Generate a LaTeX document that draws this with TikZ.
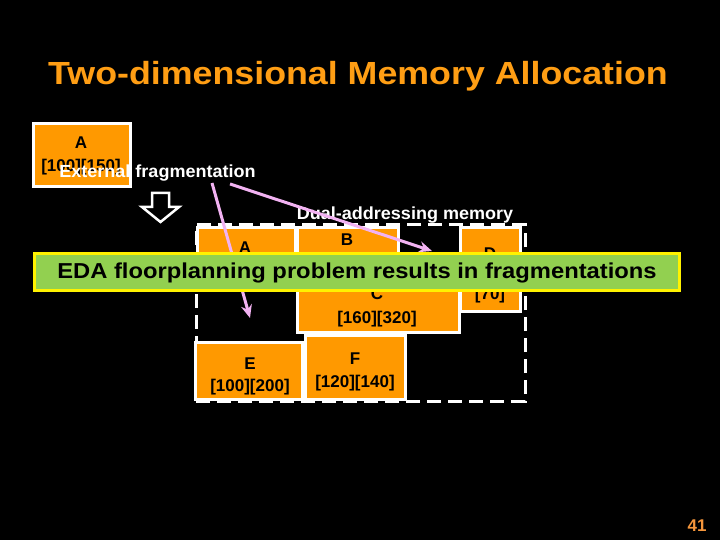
\documentclass[tikz,border=0pt]{standalone}
\usepackage{fontspec}
\usepackage{graphicx}
\setmainfont{Liberation Sans}
\usetikzlibrary{arrows.meta}
\definecolor{boxorange}{RGB}{255,153,0}
\definecolor{titleorange}{RGB}{255,158,20}
\definecolor{pagenum}{RGB}{245,150,60}
\definecolor{bannergreen}{RGB}{146,208,80}
\definecolor{arrowpink}{RGB}{242,178,242}
\tikzset{
  mbox/.style={draw=white, line width=3pt, fill=boxorange, inner sep=0pt},
  blabel/.style={anchor=base, inner sep=0pt, text=black, font=\bfseries\fontsize{17}{20}\selectfont},
  wlabel/.style={anchor=base, inner sep=0pt, text=white, font=\bfseries\fontsize{17.5}{20}\selectfont},
  pinkarrow/.style={draw=arrowpink, line width=3pt, -{Stealth[length=13pt,width=11pt]}},
  memframe/.style={draw=white, line width=3pt, dash pattern=on 14pt off 7pt, inner sep=0pt},
}
\begin{document}
\begin{tikzpicture}[x=1pt,y=-1pt]
\fill[black] (0,0) rectangle (720,540);
\useasboundingbox (0,0) rectangle (720,540);

% title
\node[anchor=base, inner sep=0pt, text=titleorange, font=\bfseries\fontsize{32}{38}\selectfont] (title) at (358,85) {\scalebox{1.118}[1]{Two-dimensional Memory Allocation}};

% top box A
\node[mbox, minimum width=97pt, minimum height=63pt] (atop) at (82,155) {};
\node[blabel] (atopname) at (81,149) {A};
\node[blabel] (atopsize) at (81,172) {[100][150]};

% external fragmentation label
\node[wlabel] (ext) at (157.5,178) {\scalebox{1.03}[1]{External fragmentation}};

% hollow down arrow
\draw[white, line width=2.5pt, fill=black, line join=miter] (152,193) -- (169,193) -- (169,207) -- (179,207) -- (160.5,222) -- (142,207) -- (152,207) -- cycle;

% dual-addressing memory
\node[wlabel] (dual) at (405,219) {\scalebox{1.03}[1]{Dual-addressing memory}};

% memory frame
\node[memframe, minimum width=329pt, minimum height=176pt] (mem) at (360.5,313) {};

% boxes inside memory
\node[mbox, minimum width=98pt, minimum height=61pt] (ain) at (246.5,258) {};
\node[mbox, minimum width=101pt, minimum height=48pt] (b) at (348,251.5) {};
\node[mbox, minimum width=162pt, minimum height=56pt] (c) at (378.5,304.5) {};
\node[mbox, minimum width=60pt, minimum height=84pt] (d) at (490.5,269.5) {};
\node[mbox, minimum width=107pt, minimum height=57pt] (e) at (249,371) {};
\node[mbox, minimum width=100pt, minimum height=64pt] (f) at (355.5,367.5) {};

\node[blabel] (ainname) at (245,253) {A};
\node[blabel] (bname) at (347,245) {B};
\node[blabel] (dname) at (490,259) {D};
\node[blabel] (cname) at (377,299) {C};
\node[blabel] (csize) at (377,323) {[160][320]};
\node[blabel] (dsize) at (490,299) {[70]};
\node[blabel] (ename) at (250,369) {E};
\node[blabel] (esize) at (250,391) {[100][200]};
\node[blabel] (fname) at (355,364) {F};
\node[blabel] (fsize) at (355,387) {[120][140]};

% pink arrows
\coordinate (s1) at (212,183);
\coordinate (s2) at (230,184);
\coordinate (t1) at (250,318);
\coordinate (t2) at (432,251);
\draw[pinkarrow] (s1) -- (t1);
\draw[pinkarrow] (s2) -- (t2);

% banner
\node[draw=yellow, line width=3pt, fill=bannergreen, minimum width=645pt, minimum height=37pt, inner sep=0pt] (banner) at (357,271.5) {};
\node[anchor=base, inner sep=0pt, text=black, font=\bfseries\fontsize{21.6}{26}\selectfont] (bannertext) at (357,278) {\scalebox{1.10}[1]{EDA floorplanning problem results in fragmentations}};

% page number
\node[anchor=base, inner sep=0pt, text=pagenum, font=\bfseries\fontsize{17}{20}\selectfont] (page) at (697,531) {41};
\end{tikzpicture}
\end{document}
